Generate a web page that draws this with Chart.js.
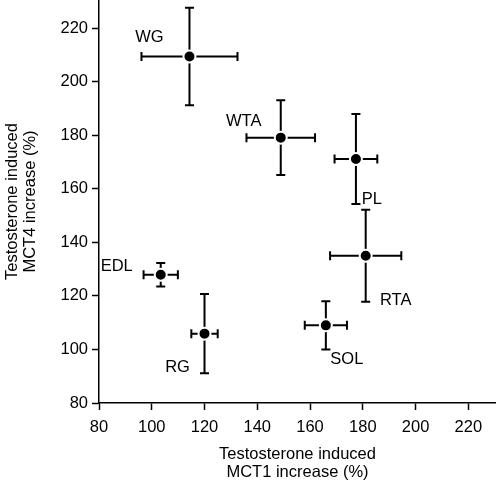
<!DOCTYPE html>
<html>
<head>
<meta charset="utf-8">
<script src="https://cdn.jsdelivr.net/npm/chart.js@4/dist/chart.umd.min.js"></script>
<style>
  body { margin: 0; background: #fff; }
  #wrap { width: 496px; height: 482px; }
</style>
</head>
<body>
<div id="wrap"><canvas id="mctChart"></canvas></div>
<script>
// muscles and their testosterone-induced increases (%)
const muscles = ['WG', 'WTA', 'PL', 'RTA', 'SOL', 'EDL', 'RG'];
const mct1 = [114.3, 148.9, 177.4, 181.1, 166.0, 103.4, 120.0];
const mct4 = [209.4, 179.1, 171.1, 135.0, 109.0, 127.9, 105.9];
const mct1Err = [18.2, 13.0, 8.1, 13.5, 8.0, 6.5, 5.0];
const mct4Err = [18.2, 14.0, 16.8, 17.2, 9.0, 4.4, 14.8];
const xTicks = [80, 100, 120, 140, 160, 180, 200, 220];
const yTicks = [80, 100, 120, 140, 160, 180, 200, 220];

// label placement relative to the dot (pixels)
const labelOffset = {
    WG: [-40, -19], WTA: [-37, -16], PL: [16, 40], RTA: [30, 45],
    SOL: [21, 34], EDL: [-44, -8], RG: [-27, 34]
};

const FONT = { family: "'Liberation Sans', Arial, sans-serif", size: 16.5 };

const errorBars = {
    id: 'errorBars',
    beforeDatasetsDraw(chart) {
        const { ctx, scales: { x, y } } = chart;
        const cap = 4.5;
        ctx.save();
        ctx.strokeStyle = '#000';
        ctx.lineWidth = 2;
        muscles.forEach((m, i) => {
            const px = x.getPixelForValue(mct1[i]);
            const py = y.getPixelForValue(mct4[i]);
            const x0 = x.getPixelForValue(mct1[i] - mct1Err[i]);
            const x1 = x.getPixelForValue(mct1[i] + mct1Err[i]);
            const y0 = y.getPixelForValue(mct4[i] - mct4Err[i]);
            const y1 = y.getPixelForValue(mct4[i] + mct4Err[i]);
            ctx.beginPath();
            ctx.moveTo(x0, py); ctx.lineTo(x1, py);
            ctx.moveTo(x0, py - cap); ctx.lineTo(x0, py + cap);
            ctx.moveTo(x1, py - cap); ctx.lineTo(x1, py + cap);
            ctx.moveTo(px, y0); ctx.lineTo(px, y1);
            ctx.moveTo(px - cap, y0); ctx.lineTo(px + cap, y0);
            ctx.moveTo(px - cap, y1); ctx.lineTo(px + cap, y1);
            ctx.stroke();
        });
        ctx.restore();
    },
    afterDatasetsDraw(chart) {
        const { ctx, scales: { x, y } } = chart;
        ctx.save();
        ctx.fillStyle = '#000';
        ctx.font = FONT.size + 'px ' + FONT.family;
        ctx.textAlign = 'center';
        ctx.textBaseline = 'middle';
        muscles.forEach((m, i) => {
            const off = labelOffset[m];
            ctx.fillText(m, x.getPixelForValue(mct1[i]) + off[0], y.getPixelForValue(mct4[i]) + off[1]);
        });
        ctx.restore();
    }
};

new Chart(document.getElementById('mctChart'), {
    type: 'scatter',
    data: {
        datasets: [{
            data: mct1.map((v, i) => ({ x: v, y: mct4[i] })),
            backgroundColor: '#000',
            borderColor: '#fff',
            borderWidth: 2,
            pointRadius: 6,
            pointHoverRadius: 6
        }]
    },
    options: {
        responsive: true,
        maintainAspectRatio: false,
        animation: false,
        devicePixelRatio: 1,
        layout: { padding: 0, autoPadding: false },
        plugins: { legend: { display: false }, tooltip: { enabled: false } },
        scales: {
            x: {
                type: 'linear',
                min: 80,
                max: 230.5,
                afterBuildTicks: s => { s.ticks = xTicks.map(v => ({ value: v })); },
                afterFit: s => { s.height = 79; s.paddingLeft = 0; s.paddingRight = 0; },
                grid: { drawOnChartArea: false, tickLength: 7, tickWidth: 1.5, tickColor: '#000' },
                border: { color: '#000', width: 1.5 },
                ticks: { color: '#000', font: FONT, padding: 8, maxRotation: 0 },
                title: {
                    display: true,
                    text: ['Testosterone induced', 'MCT1 increase (%)'],
                    color: '#000',
                    font: { ...FONT, lineHeight: 1.1 },
                    padding: { top: 0, bottom: 0 }
                }
            },
            y: {
                type: 'linear',
                min: 80,
                max: 230.5,
                afterBuildTicks: s => { s.ticks = yTicks.map(v => ({ value: v })); },
                afterFit: s => { s.width = 99; s.paddingTop = 0; s.paddingBottom = 0; },
                grid: { drawOnChartArea: false, tickLength: 7, tickWidth: 1.5, tickColor: '#000' },
                border: { color: '#000', width: 1.5 },
                ticks: { color: '#000', font: FONT, padding: 4 },
                title: {
                    display: true,
                    text: ['Testosterone induced', 'MCT4 increase (%)'],
                    color: '#000',
                    font: { ...FONT, lineHeight: 1.1 },
                    padding: { top: 3, bottom: 0 }
                }
            }
        }
    },
    plugins: [errorBars]
});
</script>
</body>
</html>
